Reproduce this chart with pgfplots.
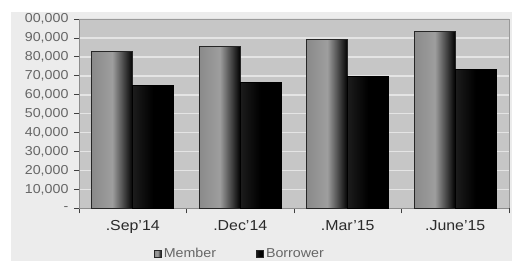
\documentclass[border=0pt]{standalone}
\usepackage{pgfplots}
\pgfplotsset{compat=1.18}
\usepackage{fontspec}
\setmainfont[FakeStretch=1.1]{Liberation Sans}
\definecolor{outerbg}{HTML}{ECECEC}
\definecolor{plotbg}{HTML}{C6C6C6}
\definecolor{gridc}{HTML}{E4E4E4}
\definecolor{ticktext}{HTML}{666666}
\definecolor{cattext}{HTML}{2A2A2A}
\definecolor{memL}{HTML}{8A8A8A}
\definecolor{memM}{HTML}{9E9E9E}
\definecolor{borL}{HTML}{1C1C1C}
\begin{document}
\begin{tikzpicture}
\useasboundingbox (0,0) rectangle (512bp,261bp);
\fill[white] (0,0) rectangle (512bp,261bp);
\fill[outerbg] (11bp,0) rectangle (512bp,249bp);
\begin{axis}[
  at={(79bp,52.7bp)}, anchor=south west,
  scale only axis, width=430bp, height=189.3bp,
  axis background/.style={fill=plotbg},
  ymin=0, ymax=100000,
  xmin=-0.5, xmax=3.5,
  ybar, bar width=41bp,
  scaled y ticks=false,
  ytick={0,10000,20000,30000,40000,50000,60000,70000,80000,90000,100000},
  yticklabels={-,{10,000},{20,000},{30,000},{40,000},{50,000},{60,000},{70,000},{80,000},{90,000},{00,000}},
  xtick={0,1,2,3},
  xticklabels={.Sep'14,.Dec'14,.Mar'15,.June'15},
  minor xtick={-0.5,0.5,1.5,2.5,3.5},
  major x tick style={draw=none},
  minor tick length=5bp,
  major tick length=5bp,
  tick align=outside,
  xtick pos=bottom, ytick pos=left,
  tick style={draw=black!75, line width=0.8pt},
  ymajorgrids, grid style={draw=gridc, line width=1.6pt},
  axis line style={draw=black!45, line width=0.8pt},
  axis x line*=bottom, axis y line*=left,
  yticklabel style={font=\fontsize{13}{13}\selectfont, text=ticktext, xshift=-2bp},
  xticklabel style={font=\fontsize{14.5}{14.5}\selectfont, text=cattext, yshift=-4bp},
  legend style={at={(0.374,-0.241)}, anchor=center, draw=none, fill=none,
    font=\fontsize{13}{13}\selectfont, text=ticktext, legend columns=2,
    /tikz/every even column/.append style={column sep=38bp}},
  legend image code/.code={\draw[#1, draw=black!85, line width=1pt] (0bp,-3.5bp) rectangle (7bp,3.5bp);},
  legend cell align=left,
  clip=false,
  mem/.style={draw=black!85, line width=0.9pt, left color=memL, right color=black, middle color=memM, bar shift=-20.5bp},
  bor/.style={draw=black, line width=0.9pt, left color=borL, right color=black, middle color=black, bar shift=20.5bp},
]
\draw[black!40, line width=0.8pt] (rel axis cs:0,1) -- (rel axis cs:1,1) -- (rel axis cs:1,0);
\addlegendimage{mem}
\addlegendentry{Member}
\addlegendimage{bor}
\addlegendentry{Borrower}
% Member
\addplot[mem, forget plot] coordinates {(0,82700)};
\addplot[mem, forget plot] coordinates {(1,85500)};
\addplot[mem, forget plot] coordinates {(2,89000)};
\addplot[mem, forget plot] coordinates {(3,93300)};
% Borrower
\addplot[bor, forget plot] coordinates {(0,64700)};
\addplot[bor, forget plot] coordinates {(1,66700)};
\addplot[bor, forget plot] coordinates {(2,69500)};
\addplot[bor, forget plot] coordinates {(3,73200)};
\end{axis}
\end{tikzpicture}
\end{document}
